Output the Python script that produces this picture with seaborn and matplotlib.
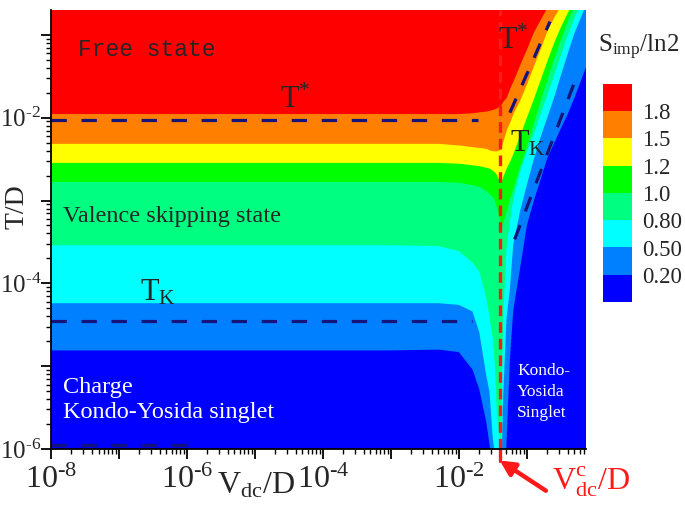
import numpy as np
import matplotlib
matplotlib.use("Agg")
import matplotlib.pyplot as plt
import seaborn as sns
from matplotlib.colors import ListedColormap, BoundaryNorm
from matplotlib.cm import ScalarMappable
from matplotlib.ticker import FixedLocator, FuncFormatter, LogLocator, NullFormatter

# S_imp/ln2 contour levels and band colours (lowest band first)
levels = [0.2, 0.5, 0.8, 1.0, 1.2, 1.5, 1.8]
level_labels = ["0.20", "0.50", "0.80", "1.0", "1.2", "1.5", "1.8"]
band_colors = ["#0000FF", "#0080FF", "#00FFFF", "#00FF80",
               "#00FF00", "#FFFF00", "#FF8000", "#FF0000"]

# log10(V_dc/D) columns
log_V = [-8.0, -3.0, -2.3, -2.0, -1.8, -1.7, -1.6, -1.55, -1.5, -1.47, -1.44,
         -1.41, -1.38, -1.35, -1.3, -1.25, -1.2, -1.1, -1.0, -0.9, -0.8, -0.7,
         -0.6, -0.5, -0.4, -0.3, -0.13]

# log10(T/D) where S_imp/ln2 crosses each level, per column
log_T_02 = [-4.81, -4.81, -4.80, -4.83, -5.04, -5.28, -5.66, -5.94, -6.2, -6.5, -6.5,
            -6.5, -6.5, -6.5, -5.94, -4.92, -4.33, -3.82, -3.30, -3.01, -2.75, -2.49,
            -2.31, -2.13, -1.96, -1.76, -1.39]
log_T_05 = [-4.24, -4.24, -4.24, -4.26, -4.34, -4.59, -5.10, -5.31, -5.88, -6.05, -6.5,
            -6.5, -6.5, -5.40, -4.43, -4.07, -3.53, -3.13, -2.81, -2.51, -2.24, -2.00,
            -1.76, -1.49, -1.23, -0.98, -0.64]
log_T_08 = [-3.54, -3.54, -3.55, -3.61, -3.75, -3.86, -4.16, -4.40, -4.67, -5.00, -5.60,
            -5.82, -5.88, -4.43, -3.59, -3.25, -2.99, -2.65, -2.41, -2.20, -1.96, -1.73,
            -1.49, -1.25, -1.01, -0.80, -0.50]
log_T_10 = [-2.77, -2.77, -2.77, -2.78, -2.81, -2.83, -2.88, -2.92, -2.96, -3.02, -3.11,
            -3.23, -3.33, -3.25, -3.11, -2.96, -2.83, -2.57, -2.33, -2.05, -1.78, -1.52,
            -1.27, -1.04, -0.82, -0.64, -0.36]
log_T_12 = [-2.54, -2.54, -2.54, -2.55, -2.57, -2.58, -2.60, -2.61, -2.64, -2.66, -2.70,
            -2.75, -2.77, -2.70, -2.60, -2.52, -2.42, -2.20, -1.98, -1.76, -1.53, -1.30,
            -1.08, -0.89, -0.72, -0.55, -0.28]
log_T_15 = [-2.31, -2.31, -2.31, -2.33, -2.35, -2.36, -2.37, -2.39, -2.40, -2.40, -2.40,
            -2.39, -2.36, -2.28, -2.14, -2.05, -1.94, -1.78, -1.58, -1.37, -1.16, -0.94,
            -0.78, -0.64, -0.45, -0.25, 0.05]
log_T_18 = [-1.95, -1.95, -1.95, -1.95, -1.94, -1.93, -1.92, -1.91, -1.90, -1.89, -1.88,
            -1.86, -1.84, -1.80, -1.75, -1.64, -1.55, -1.35, -1.16, -0.96, -0.81, -0.66,
            -0.50, -0.30, -0.10, 0.10, 0.40]
crossings = [log_T_02, log_T_05, log_T_08, log_T_10, log_T_12, log_T_15, log_T_18]

# crossover scales (dashed lines), log10 values
tstar_left_V, tstar_left_T = [-8.0, -1.72], [-2.03, -2.03]
tstar_right_V, tstar_right_T = [-1.25, -0.66], [-1.94, -0.84]
tk_left_V, tk_left_T = [-8.0, -1.81], [-4.46, -4.46]
tk_right_V, tk_right_T = [-1.18, -0.27], [-3.47, -1.51]
low_V, low_T = [-8.0, -6.0], [-5.95, -5.95]
log_Vc = -1.40

x_lim = (1e-8, 10 ** -0.13)
y_lim = (1e-6, 10 ** -0.70)

sns.set_theme(style="ticks")
plt.rcParams["font.family"] = ["Liberation Serif", "DejaVu Serif"]
plt.rcParams["mathtext.fontset"] = "custom"
plt.rcParams["mathtext.rm"] = "Liberation Serif"
plt.rcParams["mathtext.it"] = "Liberation Serif:italic"
plt.rcParams["mathtext.bf"] = "Liberation Serif:bold"

fig = plt.figure(figsize=(6.85, 5.11), dpi=100)
ax = fig.add_axes([51 / 685, 1 - 449 / 511, 535 / 685, 439 / 511])
cax = fig.add_axes([603 / 685, 1 - 302 / 511, 29 / 685, 218 / 511])

palette = sns.color_palette(band_colors)
V = 10.0 ** np.array(log_V)
top = np.full(len(V), 10.0)
ax.set_facecolor(palette[0])
for k, cross in enumerate(crossings):
    ax.fill_between(V, 10.0 ** np.array(cross), top, color=palette[k + 1], lw=0)

navy = "#14147a"
for xs, ys in [(tstar_left_V, tstar_left_T), (tstar_right_V, tstar_right_T),
               (tk_left_V, tk_left_T), (tk_right_V, tk_right_T), (low_V, low_T)]:
    ax.plot(10.0 ** np.array(xs), 10.0 ** np.array(ys), color=navy, lw=2.3,
            dashes=(4.8, 4.6), solid_capstyle="butt", dash_capstyle="butt")

Vc = 10.0 ** log_Vc
ax.plot([Vc, Vc], [0, 1], transform=ax.get_xaxis_transform(), color="#ff1a1a",
        lw=2.4, dashes=(3.2, 1.8))
ax.plot([Vc, Vc], [-0.028, 0], transform=ax.get_xaxis_transform(), color="#ff1a1a",
        lw=2.4, clip_on=False)
ax.annotate("", xy=(Vc, -0.026), xycoords=("data", "axes fraction"),
            xytext=(0.925, -0.095), textcoords="axes fraction",
            arrowprops=dict(arrowstyle="-|>", color="#ff1a1a", lw=3.2,
                            mutation_scale=22, shrinkA=0, shrinkB=0))
ax.text(0.936, -0.035, r"$\mathregular{V^{c}_{dc}/D}$", transform=ax.transAxes,
        color="#ff1a1a", fontsize=23, ha="left", va="top")

ax.set_xscale("log")
ax.set_yscale("log")
ax.set_xlim(*x_lim)
ax.set_ylim(*y_lim)

x_shown = [-8, -6, -4, -2]
y_shown = [-6, -4, -2]


def make_fmt(shown):
    def fmt(v, pos):
        e = int(round(np.log10(v)))
        if e not in shown:
            return ""
        return r"$\mathregular{10^{\text{-}%d}}$" % abs(e)
    return fmt


ax.xaxis.set_major_locator(FixedLocator(10.0 ** np.arange(-8, 0)))
ax.yaxis.set_major_locator(FixedLocator(10.0 ** np.arange(-6, 0)))
ax.xaxis.set_major_formatter(FuncFormatter(make_fmt(x_shown)))
ax.yaxis.set_major_formatter(FuncFormatter(make_fmt(y_shown)))
for axis in (ax.xaxis, ax.yaxis):
    axis.set_minor_locator(LogLocator(base=10, subs=np.arange(2, 10), numticks=20))
    axis.set_minor_formatter(NullFormatter())
ax.tick_params(which="major", direction="out", length=7, width=1.3, color="black")
ax.tick_params(which="minor", direction="out", length=3.5, width=1.0, color="black")
ax.tick_params(axis="x", labelsize=23, pad=5)
ax.tick_params(axis="y", labelsize=18, pad=0)
sns.despine(ax=ax)
for side in ("left", "bottom"):
    ax.spines[side].set_color("black")
    ax.spines[side].set_linewidth(1.3)

ax.set_xlabel(r"$\mathregular{V_{dc}/D}$", fontsize=23, va="top")
ax.xaxis.set_label_coords(0.384, -0.05)
ax.set_ylabel("T/D", fontsize=20)
ax.yaxis.set_label_coords(-0.04, 0.551)

# region labels
ax.text(0.050, 0.895, "Free state", transform=ax.transAxes, fontsize=16.5,
        family="Liberation Mono", va="baseline")
ax.text(0.428, 0.777, r"$\mathregular{T^{*}}$", transform=ax.transAxes,
        fontsize=22, va="baseline")
ax.text(0.022, 0.517, "Valence skipping state", transform=ax.transAxes,
        fontsize=17.5, va="baseline")
ax.text(0.166, 0.339, r"$\mathregular{T_{K}}$", transform=ax.transAxes,
        fontsize=22, va="baseline")
ax.text(0.022, 0.128, "Charge", transform=ax.transAxes, fontsize=17.5,
        color="white", va="baseline")
ax.text(0.022, 0.071, "Kondo-Yosida singlet", transform=ax.transAxes,
        fontsize=17.5, color="white", va="baseline")
ax.text(0.836, 0.911, r"$\mathregular{T^{*}}$", transform=ax.transAxes,
        fontsize=22, va="baseline")
ax.text(0.858, 0.677, r"$\mathregular{T_{K}}$", transform=ax.transAxes,
        fontsize=22, va="baseline")
ax.text(0.871, 0.195, "Kondo-\nYosida\nSinglet", transform=ax.transAxes,
        fontsize=12.5, color="white", va="top", linespacing=1.4)

# colour bar
cmap = ListedColormap(band_colors)
norm = BoundaryNorm([0.0] + levels + [2.0], cmap.N)
cb = fig.colorbar(ScalarMappable(norm=norm, cmap=cmap), cax=cax, ticks=levels,
                  spacing="uniform")
cb.outline.set_visible(False)
cb.set_ticklabels(level_labels)
cb.ax.minorticks_off()
cb.ax.tick_params(which="both", length=0, labelsize=16.5, pad=7)
fig.text(598 / 685, 1 - 47 / 511, r"$\mathregular{S_{imp}/ln2}$", fontsize=18,
         ha="left", va="center")

fig.savefig("out.png", dpi=100)
